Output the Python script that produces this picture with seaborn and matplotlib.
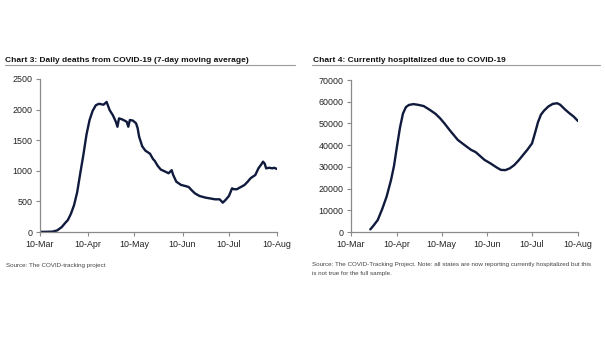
import matplotlib
matplotlib.use("Agg")
import matplotlib.pyplot as plt
from matplotlib.lines import Line2D
import seaborn as sns
import pandas as pd

# ---------------- data ----------------
start = "2020-03-10"
death_days = [0, 4, 8, 11, 14, 16, 18, 20, 22, 24, 26, 28, 30, 32, 34, 36, 38, 40, 41, 43,
              45, 47, 49, 50, 51, 53, 55, 56, 57, 58, 60, 62, 63, 64, 66, 68, 71, 73, 74, 76,
              78, 81, 83, 85, 86, 88, 91, 94, 96, 98, 100, 103, 107, 110, 113, 116, 118, 120,
              122, 124, 125, 127, 130, 132, 134, 136, 139, 141, 143, 144, 145, 146, 148, 150,
              151, 153]
death_vals = [2, 3, 6, 25, 80, 140, 196, 300, 440, 650, 960, 1260, 1590, 1830, 1980, 2070,
              2095, 2085, 2080, 2125, 1990, 1910, 1800, 1720, 1857, 1840, 1815, 1800, 1720,
              1830, 1820, 1776, 1700, 1557, 1400, 1330, 1280, 1190, 1165, 1080, 1020, 985,
              960, 1010, 930, 822, 770, 750, 735, 680, 632, 588, 561, 548, 534, 534, 479, 530,
              590, 714, 700, 698, 740, 768, 820, 880, 931, 1040, 1110, 1149, 1120, 1040, 1050,
              1040, 1050, 1030]

hosp_days = [13, 15, 18, 21, 24, 27, 29, 31, 33, 35, 37, 39, 42, 45, 49, 53, 57, 60, 63, 67,
             72, 77, 81, 84, 87, 90, 94, 98, 101, 104, 107, 110, 113, 116, 119, 122, 124, 126,
             128, 130, 133, 136, 139, 141, 144, 147, 150, 153]
hosp_vals = [1200, 2800, 5500, 10500, 16300, 24000, 30500, 39500, 48000, 54500, 57500, 58500,
             58900, 58600, 58000, 56300, 54400, 52400, 50000, 46500, 42400, 39800, 37800, 36800,
             35000, 33200, 31600, 29800, 28600, 28500, 29300, 30800, 33000, 35500, 38000, 40800,
             45500, 50500, 54000, 55800, 57800, 59000, 59300, 58600, 56600, 54800, 53200, 51100]

tick_dates = ["2020-03-10", "2020-04-10", "2020-05-10", "2020-06-10", "2020-07-10", "2020-08-10"]
tick_labels = ["10-Mar", "10-Apr", "10-May", "10-Jun", "10-Jul", "10-Aug"]
death_yticks = [0, 500, 1000, 1500, 2000, 2500]
hosp_yticks = [0, 10000, 20000, 30000, 40000, 50000, 60000, 70000]

title_left = "Chart 3: Daily deaths from COVID-19 (7-day moving average)"
title_right = "Chart 4: Currently hospitalized due to COVID-19"
source_left = "Source: The COVID-tracking project"
source_right = ("Source: The COVID-Tracking Project. Note: all states are now reporting currently hospitalized but this\n"
                "is not true for the full sample.")

# ---------------- style ----------------
sns.set_theme(style="white")
plt.rcParams["font.family"] = ["Liberation Sans", "DejaVu Sans"]

W, H = 605, 341
fig = plt.figure(figsize=(W / 100, H / 100), dpi=100)
fig.patch.set_facecolor("white")

LINE = "#0f1a3c"
SPINE = "#8a8a8a"

def px_axes(l, t, r, b):
    return fig.add_axes([l / W, 1 - b / H, (r - l) / W, (b - t) / H])

base = pd.Timestamp(start)
df_d = pd.DataFrame({"date": base + pd.to_timedelta(death_days, unit="D"), "value": death_vals})
df_h = pd.DataFrame({"date": base + pd.to_timedelta(hosp_days, unit="D"), "value": hosp_vals})

ax1 = px_axes(40, 79, 277, 232)
ax2 = px_axes(351, 80, 578, 232)

for ax, df, yt, ymax in [(ax1, df_d, death_yticks, 2500), (ax2, df_h, hosp_yticks, 70000)]:
    sns.lineplot(data=df, x="date", y="value", ax=ax, color=LINE, linewidth=1.7)
    ax.set_xlim(pd.Timestamp(tick_dates[0]), pd.Timestamp(tick_dates[-1]))
    ax.set_ylim(0, ymax)
    ax.set_xticks(pd.to_datetime(tick_dates))
    ax.set_xticklabels(tick_labels)
    ax.set_yticks(yt)
    ax.set_yticklabels([str(v) for v in yt])
    ax.set_xlabel("")
    ax.set_ylabel("")
    for s in ["top", "right"]:
        ax.spines[s].set_visible(False)
    for s in ["left", "bottom"]:
        ax.spines[s].set_color(SPINE)
        ax.spines[s].set_linewidth(0.9)
    ax.tick_params(axis="both", which="major", length=3, width=0.8, color=SPINE,
                   labelsize=6.4, labelcolor="#222222", pad=2.5, direction="out")
    ax.tick_params(axis="x", bottom=True)
    ax.tick_params(axis="y", left=True)
    ax.set_facecolor("white")
    ax.grid(False)

# titles
fig.text(5 / W, 1 - 61.5 / H, title_left, fontsize=6.0, fontweight="bold", color="#111111",
         ha="left", va="baseline")
fig.text(313 / W, 1 - 61.5 / H, title_right, fontsize=6.0, fontweight="bold", color="#111111",
         ha="left", va="baseline")
# title underline
fig.add_artist(Line2D([5 / W, 295 / W], [1 - 65 / H] * 2, color="#9a9a9a", linewidth=0.8))
fig.add_artist(Line2D([312 / W, 600 / W], [1 - 65 / H] * 2, color="#9a9a9a", linewidth=0.8))

# sources
fig.text(6 / W, 1 - 265 / H, source_left, fontsize=4.5, color="#444444", ha="left", va="center")
fig.text(312 / W, 1 - 262 / H, source_right, fontsize=4.5, color="#444444", ha="left", va="top",
         linespacing=2.0)

fig.savefig("out.png", dpi=100, facecolor="white")
